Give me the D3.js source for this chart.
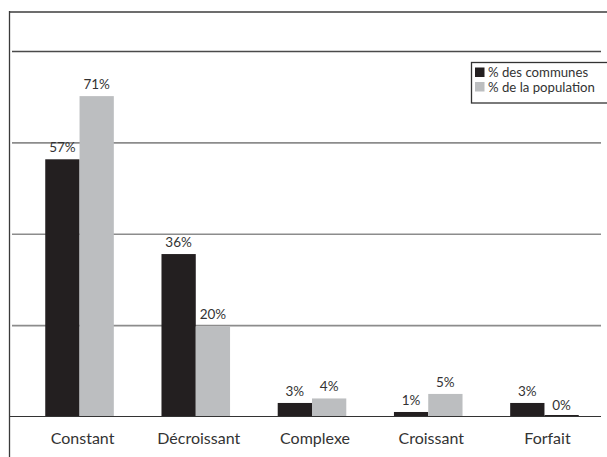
<!DOCTYPE html>
<html>
<head>
<meta charset="utf-8">
<script src="https://cdn.jsdelivr.net/npm/d3@7"></script>
<style>
  html, body { margin: 0; padding: 0; background: #fff; }
  svg { display: block; font-family: Lato, "Open Sans", sans-serif; }
</style>
</head>
<body>
<svg id="chart" width="607" height="457"></svg>
<script>
// Tarification type : share of communes vs share of population
const categories = ["Constant", "Décroissant", "Complexe", "Croissant", "Forfait"];
const seriesNames = ["% des communes", "% de la population"];
const communes = [57, 36, 3, 1, 3];
const population = [71, 20, 4, 5, 0];
const seriesColors = ["#231f20", "#bcbec0"];
const yMax = 81;          // top of the value axis, in %
const gridCount = 4;      // horizontal divisions of the plot

const svg = d3.select("#chart");
const W = 607, H = 457;

const plot = { left: 12, right: 601, top: 51, bottom: 416.5 };

const x0 = d3.scaleBand()
  .domain(categories)
  .range([22, 602])
  .paddingInner(0.41)
  .paddingOuter(0.2);

const x1 = d3.scaleBand()
  .domain(seriesNames)
  .range([0, x0.bandwidth()]);

const y = d3.scaleLinear()
  .domain([0, yMax])
  .range([plot.bottom, plot.top]);

const color = d3.scaleOrdinal().domain(seriesNames).range(seriesColors);

// outer frame: top rule and left edge
svg.append("line")
  .attr("x1", 9).attr("x2", W).attr("y1", 12).attr("y2", 12)
  .attr("stroke", "#6d6d6d").attr("stroke-width", 2);
svg.append("line")
  .attr("x1", 9.5).attr("x2", 9.5).attr("y1", 11).attr("y2", H)
  .attr("stroke", "#3a3a3a").attr("stroke-width", 1.3);

// horizontal grid
const gridVals = d3.range(1, gridCount + 1).map(i => i * yMax / gridCount);
const yAxis = d3.axisRight(y)
  .tickValues(gridVals)
  .tickSize(plot.right - plot.left)
  .tickFormat("");
const gAxis = svg.append("g")
  .attr("transform", `translate(${plot.left},0)`)
  .call(yAxis);
gAxis.select(".domain").remove();
gAxis.selectAll(".tick line")
  .attr("stroke", (d, i) => i === gridCount - 1 ? "#4a4a4a" : "#8c8c8c")
  .attr("stroke-width", 1.6);

// bars
const rows = categories.map((c, i) => ({
  cat: c,
  vals: [
    { key: seriesNames[0], value: communes[i] },
    { key: seriesNames[1], value: population[i] }
  ]
}));

const groups = svg.append("g").selectAll("g")
  .data(rows)
  .join("g")
  .attr("transform", d => `translate(${x0(d.cat)},0)`);

groups.selectAll("rect")
  .data(d => d.vals)
  .join("rect")
  .attr("x", d => x1(d.key))
  .attr("width", x1.bandwidth())
  .attr("y", d => d.value === 0 ? y(0) - 1.5 : y(d.value))
  .attr("height", d => d.value === 0 ? 1.5 : y(0) - y(d.value))
  .attr("fill", d => d.value === 0 ? "#231f20" : color(d.key));

groups.selectAll("text")
  .data(d => d.vals)
  .join("text")
  .attr("x", d => x1(d.key) + x1.bandwidth() / 2)
  .attr("y", d => y(d.value) - 7)
  .attr("text-anchor", "middle")
  .attr("font-size", 13.5)
  .attr("fill", "#333")
  .text(d => d.value + "%");

// baseline
svg.append("line")
  .attr("x1", 10).attr("x2", plot.right)
  .attr("y1", y(0)).attr("y2", y(0))
  .attr("stroke", "#333").attr("stroke-width", 1.2);

// category labels
const xAxis = d3.axisBottom(x0).tickSize(0).tickPadding(0);
const gx = svg.append("g")
  .attr("transform", `translate(3,${y(0)})`)
  .call(xAxis);
gx.select(".domain").remove();
gx.selectAll("text")
  .attr("y", 27.5)
  .attr("dy", 0)
  .attr("font-family", "Lato, 'Open Sans', sans-serif")
  .attr("font-size", 16)
  .attr("fill", "#333");

// legend
const legend = svg.append("g").attr("transform", "translate(471,62)");
legend.append("rect")
  .attr("x", 0.5).attr("y", 0.5)
  .attr("width", 140).attr("height", 40.5)
  .attr("fill", "#fff")
  .attr("stroke", "#333").attr("stroke-width", 1.3);
const li = legend.selectAll("g.item")
  .data(seriesNames)
  .join("g")
  .attr("class", "item")
  .attr("transform", (d, i) => `translate(4,${5.5 + i * 14.5})`);
li.append("rect")
  .attr("width", 9.5).attr("height", 9.5)
  .attr("fill", d => color(d));
li.append("text")
  .attr("x", 13)
  .attr("y", 9.5)
  .attr("font-size", 13.2)
  .attr("fill", "#333")
  .text(d => d);
</script>
</body>
</html>
